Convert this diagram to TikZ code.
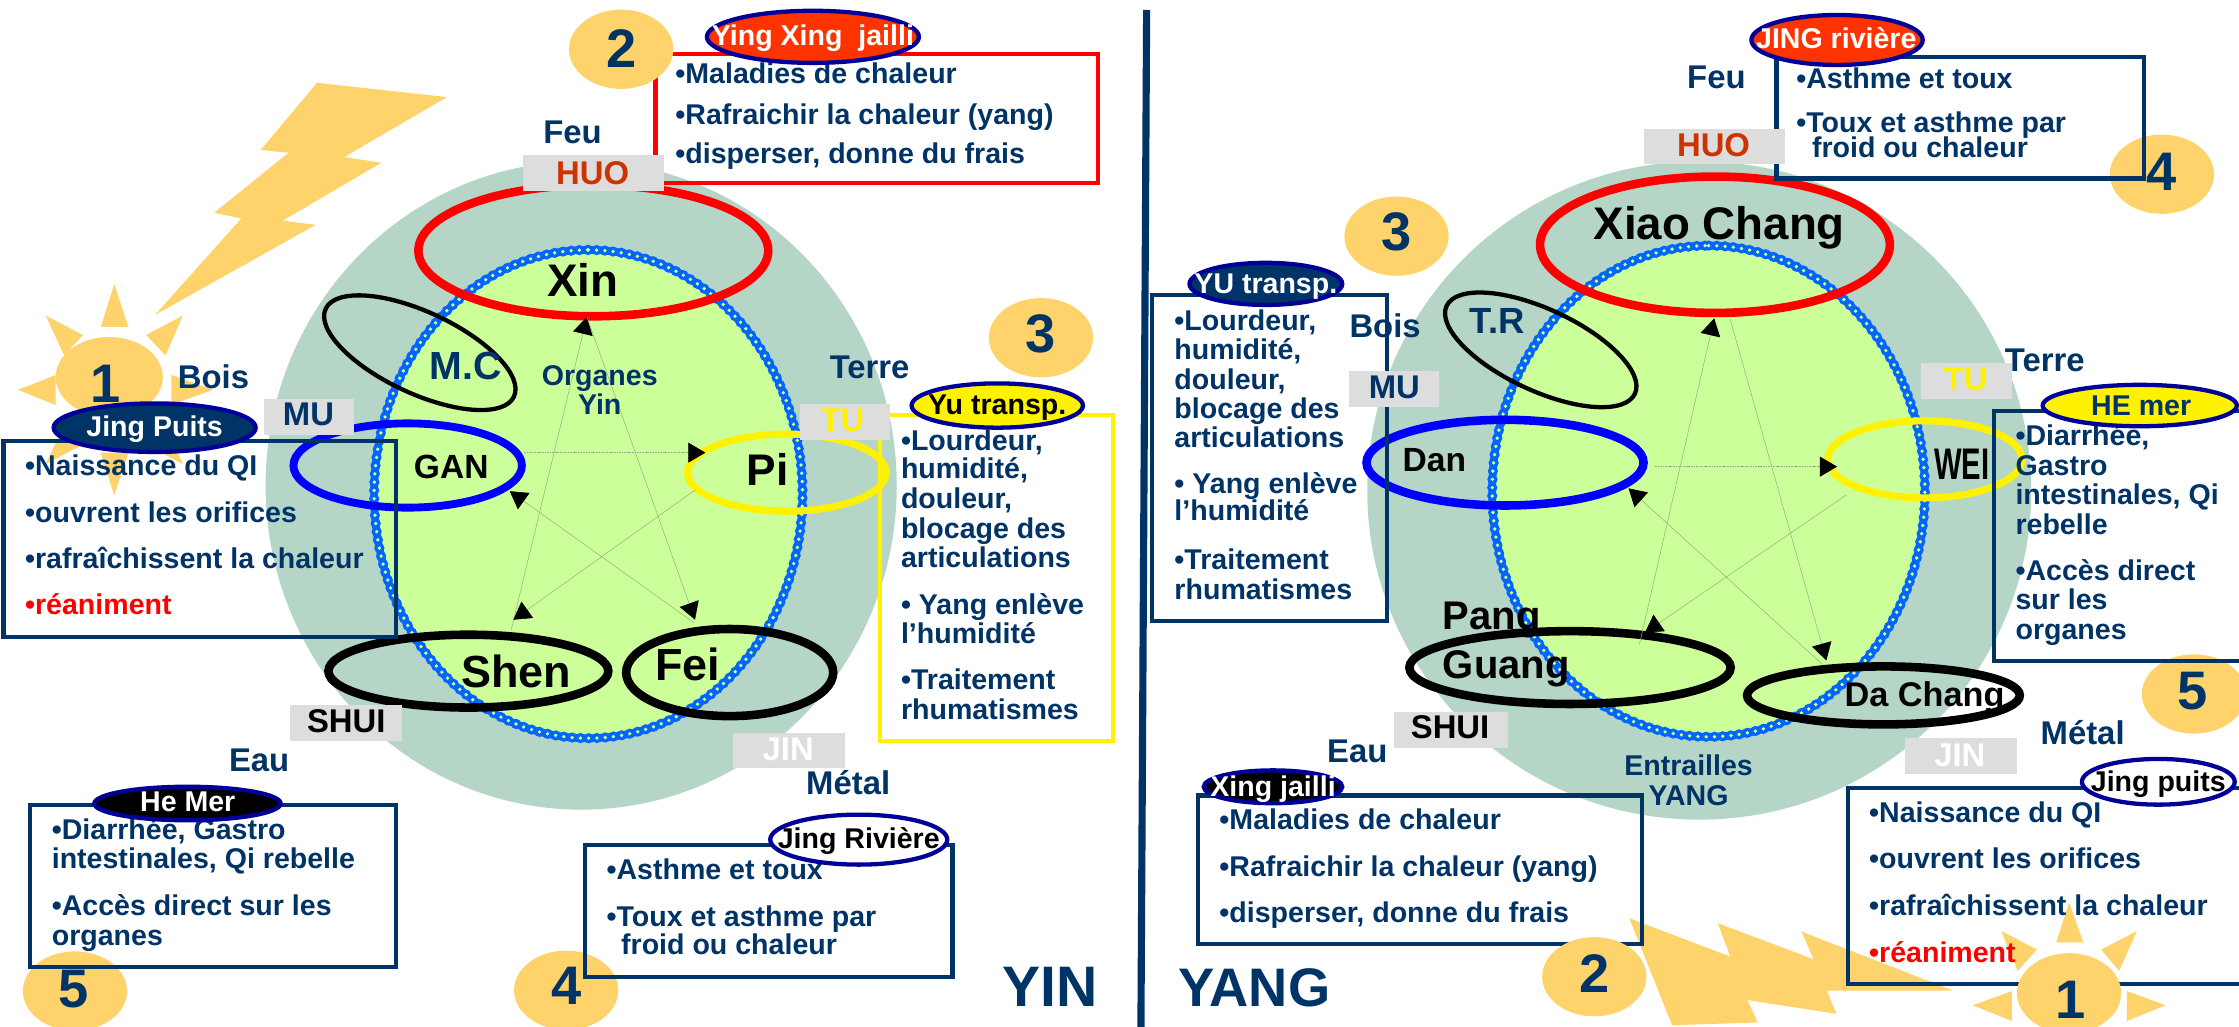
\documentclass[tikz,border=0pt]{standalone}
\usepackage{fontspec}
\setmainfont{Liberation Sans}
\usetikzlibrary{shapes.geometric,arrows.meta}
\definecolor{navy}{HTML}{003366}
\definecolor{disc}{HTML}{FFD36B}
\definecolor{sage}{HTML}{B5D6C6}
\definecolor{lime}{HTML}{CCFF99}
\definecolor{greyb}{HTML}{DDDDDD}
\definecolor{ovalb}{HTML}{000099}
\definecolor{flame}{HTML}{FF3300}
\definecolor{huoc}{HTML}{CC3300}
\definecolor{ringb}{HTML}{0066FF}
\definecolor{ringd}{HTML}{DDFF88}
\definecolor{thinl}{HTML}{8FAF80}
\newcommand\fsz[1]{\fontsize{#1}{#1}\selectfont\bfseries}
\tikzset{
 lbl/.style={font=\fsz{#1},text height={#1*0.716pt},text depth=0pt,inner sep=0pt,outer sep=0pt},
 oval/.style args={#1/#2}{shape=ellipse,inner sep=0pt,outer sep=0pt,minimum width=#1pt,minimum height=#2pt},
 numdisc/.style={oval=73/55.5,fill=disc},
 digit/.style={lbl=38,text=navy},
 body/.style={lbl=20,text=navy,anchor=west},
 elem/.style={lbl=23,text=navy},
 organ/.style={lbl=#1,text=black},
 greytag/.style={shape=rectangle,fill=greyb,inner sep=0pt,outer sep=0pt,minimum width=#1pt,minimum height=25pt},
 tagtxt/.style={lbl=23,text=#1},
 ring/.style={oval=#1,draw=none,fill=lime},
 beads/.style={draw=ringb,line width=5.4pt},
 beaddots/.style={draw=ringb,line width=7.2pt,line cap=round,dash pattern=on 0pt off 5.8pt},
 beadlight/.style={draw=ringd,line width=2.6pt,line cap=round,dash pattern=on 0pt off 5.8pt},
 note/.style={shape=rectangle,draw=#1,line width=3pt,inner sep=0pt,outer sep=0pt,fill=none},
 callout/.style={shape=ellipse,inner sep=0pt,outer sep=0pt,draw=ovalb,line width=3pt,fill=#1},
 calltxt/.style={lbl=20,text=#1},
 star/.style={draw=thinl,line width=0.35pt,-{Triangle[length=12pt,width=14pt,fill=black,color=black]}},
 bolt/.style={fill=disc,draw=none},
}
\begin{document}
\begin{tikzpicture}[x=1pt,y=-1pt]
\useasboundingbox (0,0) rectangle (1568,719.2);
\path[fill=white] (0,0) rectangle (1568,719.2);

%%% ---------- LEFT : YIN ----------
\fill[bolt] (222,58)--(313,68)--(241,110)--(267,114)--(198,154.5)--(221,157.5)--(108.5,220.6)--(169,153)--(150,149)--(202,107)--(182.6,105)--cycle;
% sun rays
\fill[bolt] (80,199)--(90,229)--(70.6,229)--cycle;
\fill[bolt] (32,221)--(58,234.6)--(45,249)--cycle;
\fill[bolt] (128,221)--(102.4,234.6)--(116,249)--cycle;
\fill[bolt] (12.6,273)--(39,262.6)--(39,283.6)--cycle;
\fill[bolt] (149,273)--(120,262.6)--(120,283.6)--cycle;
\fill[bolt] (80,347)--(90,317)--(70.6,317)--cycle;
\fill[bolt] (32,325)--(58,311.4)--(45,297)--cycle;
\fill[bolt] (128,325)--(102.4,311.4)--(116,297)--cycle;
\node[oval=75/56,fill=disc] (sunL) at (76.5,264) {};
\node[numdisc] (d3L) at (729,236.5) {};
\node[numdisc] (d5L) at (52.5,694) {};
\node[numdisc] (d4L) at (396.5,693.5) {};

\node[oval=442/454,fill=sage] (bigL) at (407,340) {};
\node[ring=300/342] (limeL) at (412,346) {};
\draw[beads] (412,175) arc[x radius=150,y radius=171,start angle=-90,end angle=270];
\draw[beaddots] (412,175) arc[x radius=150,y radius=171,start angle=-90,end angle=270];
\draw[beadlight] (412,175) arc[x radius=150,y radius=171,start angle=-90,end angle=270];

\node[oval=245/92,draw=red,line width=6pt] (redL) at (415.5,175.5) {};
\node[oval=145.5/57,draw=black,line width=3pt,rotate=-25] (mcL) at (294,247) {};
\node[oval=160/59,draw=blue,line width=5.5pt] (ganL) at (285.5,326) {};
\node[oval=139/54,draw=yellow,line width=5pt] (piL) at (551,331) {};
\node[oval=196/51,draw=black,line width=6pt] (shenL) at (328,470) {};
\node[oval=145/61,draw=black,line width=6pt] (feiL) at (511,471) {};

% pentagram
\coordinate (tL) at (411,222);
\coordinate (rL) at (494,317);
\coordinate (fL) at (486.7,434);
\coordinate (sL) at (359.5,434);
\coordinate (lL) at (357,344);
\coordinate (sLa) at (358,441);
\coordinate (lLa) at (367,317);
\coordinate (fLa) at (486,436);
\coordinate (rLa) at (487,343);
\coordinate (tLa) at (411,222);
\draw[star] (sLa) -- (tL);
\draw[star,dash pattern=on 1.2pt off 0.6pt] (lLa) -- (rL);
\draw[star] (fLa) -- (lL);
\draw[star] (tLa) -- (fL);
\draw[star] (rLa) -- (sL);

% note boxes
\node[note=navy,minimum width=275pt,minimum height=137pt] (b1L) at (140,377.5) {};
\node[note=red,minimum width=310pt,minimum height=90pt] (b2L) at (614,83) {};
\node[note=yellow,minimum width=163pt,minimum height=228.5pt] (b3L) at (698,404.8) {};
\node[note=navy,minimum width=256.5pt,minimum height=113.5pt] (b5L) at (149.2,620.3) {};
\node[note=navy,minimum width=257.3pt,minimum height=92.4pt] (b4L) at (538.4,637.8) {};
\node[numdisc] (d2L) at (435,34.5) {};

% grey tags
\node[greytag=99] (huoL) at (415.5,121) {};
\node[greytag=63.5] (muL) at (216.3,291.8) {};
\node[greytag=63.5] (tuL) at (591.8,295.5) {};
\node[greytag=78.5] (shuiL) at (242.3,506.5) {};
\node[greytag=78.5] (jinL) at (552.8,525.5) {};
\node[tagtxt=huoc] (huoLt) at (415,121) {HUO};
\node[tagtxt=navy] (muLt) at (216,290) {MU};
\node[tagtxt=yellow] (tuLt) at (590,294) {TU};
\node[tagtxt=black] (shuiLt) at (242.5,505) {SHUI};
\node[tagtxt=white] (jinLt) at (552,524) {JIN};

% elements
\node[elem] (feuL) at (401,92) {Feu};
\node[elem] (boisL) at (149.5,264) {Bois};
\node[elem] (terreL) at (609,257) {Terre};
\node[elem] (eauL) at (181.5,532) {Eau};
\node[elem] (metalL) at (594,548) {Métal};
\node[lbl=20,text=navy] (orgL) at (420,262.6) {Organes};
\node[lbl=20,text=navy] (yinyL) at (420,283) {Yin};

% organs
\node[organ=32] (xin) at (408,196) {Xin};
\node[lbl=27.5,text=navy] (mc) at (326,255.6) {M.C};
\node[organ=23.5] (gan) at (316,327) {GAN};
\node[organ=31] (pi) at (537.5,329) {Pi};
\node[organ=31.5] (shen) at (361.5,470) {Shen};
\node[organ=31.5] (fei) at (481.5,465.5) {Fei};

% digits
\node[digit] (n1L) at (74,268) {1};
\node[digit] (n2L) at (435,33.5) {2};
\node[digit] (n3L) at (729,233) {3};
\node[digit] (n5L) at (51.5,692) {5};
\node[digit] (n4L) at (397,690) {4};
\node[lbl=40,text=navy] (yin) at (735.5,690.5) {YIN};

% note text
\node[body] (a1) at (473,51) {•Maladies de chaleur};
\node[body] (a2) at (473,80) {•Rafraichir la chaleur (yang)};
\node[body] (a3) at (473,107) {•disperser, donne du frais};
\node[body] (c1) at (17.6,325.6) {•Naissance du QI};
\node[body] (c2) at (17.6,359) {•ouvrent les orifices};
\node[body] (c3) at (17.6,391) {•rafraîchissent la chaleur};
\node[body,text=red] (c4) at (17.6,423.5) {•réaniment};
\node[body] (e1) at (631,308) {•Lourdeur,};
\node[body] (e2) at (631,328) {humidité,};
\node[body] (e3) at (631,349) {douleur,};
\node[body] (e4) at (631,370) {blocage des};
\node[body] (e5) at (631,390.4) {articulations};
\node[body] (e6) at (631,423) {• Yang enlève};
\node[body] (e7) at (631,443.4) {l’humidité};
\node[body] (e8) at (631,476) {•Traitement};
\node[body] (e9) at (631,496.6) {rhumatismes};
\node[body] (g1) at (36.3,580.6) {•Diarrhée, Gastro};
\node[body] (g2) at (36.3,601) {intestinales, Qi rebelle};
\node[body] (g3) at (36.3,634) {•Accès direct sur les};
\node[body] (g4) at (36.3,655) {organes};
\node[body] (i1) at (424.8,609) {•Asthme et toux};
\node[body] (i2) at (424.8,642) {•Toux et asthme par};
\node[body] (i3) at (435,661.6) {froid ou chaleur};

% callouts
\node[callout=flame,minimum width=148.5pt,minimum height=36.5pt] (k1) at (569.3,25.8) {};
\node[calltxt=white] (k1t) at (569.3,25) {Ying Xing\ \ jailli};
\node[callout=navy,minimum width=141.5pt,minimum height=34pt] (k2) at (108.3,299.5) {};
\node[calltxt=white] (k2t) at (108.3,298.7) {Jing Puits};
\node[callout=yellow,minimum width=120pt,minimum height=31pt] (k3) at (698.4,284) {};
\node[calltxt=black] (k3t) at (698.4,283) {Yu transp.};
\node[callout=black,minimum width=130.5pt,minimum height=23.5pt] (k4) at (131.3,562.7) {};
\node[calltxt=white] (k4t) at (131.5,561) {He Mer};
\node[callout=white,minimum width=124pt,minimum height=35pt] (k5) at (601.4,588) {};
\node[calltxt=black] (k5t) at (601.4,587) {Jing Rivière};

%%% ---------- DIVIDER ----------
\coordinate (divT) at (803,7);
\coordinate (divB) at (799,719.2);
\draw[navy,line width=5pt] (divT) -- (divB);

%%% ---------- RIGHT : YANG ----------
\fill[bolt] (1141,643)--(1211.8,670)--(1203,646.5)--(1270,671.8)--(1261.7,652.4)--(1368,693.8)--(1279.4,693.8)--(1286,710)--(1223.7,700.3)--(1231,716)--(1171,718)--cycle;
\node[numdisc] (d3R) at (978,165.4) {};
\node[numdisc] (d4R) at (1514,122) {};
\node[numdisc] (d5R) at (1536.5,486) {};

\node[oval=465/461,fill=sage] (bigR) at (1190,343.5) {};
\node[ring=303/344] (limeR) at (1196.5,344) {};
\draw[beads] (1196.5,172) arc[x radius=151.5,y radius=172,start angle=-90,end angle=270];
\draw[beaddots] (1196.5,172) arc[x radius=151.5,y radius=172,start angle=-90,end angle=270];
\draw[beadlight] (1196.5,172) arc[x radius=151.5,y radius=172,start angle=-90,end angle=270];

\node[oval=245/95.5,draw=red,line width=6pt] (redR) at (1201,171.4) {};
\node[oval=145.5/57,draw=black,line width=3pt,rotate=-25] (trR) at (1079,245) {};
\node[oval=194/60,draw=blue,line width=6pt] (danR) at (1054,324) {};
\node[oval=136/54,draw=yellow,line width=5pt] (weiR) at (1348,321.7) {};
\node[oval=225/51,draw=black,line width=6pt] (pangR) at (1099.5,467.5) {};
\node[oval=191/40.6,draw=black,line width=6pt] (daR) at (1319,487) {};

\coordinate (tR) at (1200.5,223);
\coordinate (rR) at (1286.5,326.8);
\coordinate (fR) at (1279,462.5);
\coordinate (sR) at (1152,443);
\coordinate (lR) at (1140.5,342);
\coordinate (sRa) at (1148,451.5);
\coordinate (lRa) at (1159,326.8);
\coordinate (fRa) at (1276.5,465.5);
\coordinate (rRa) at (1293,346.6);
\coordinate (tRa) at (1211.5,223);
\draw[star] (sRa) -- (tR);
\draw[star,dash pattern=on 1.2pt off 0.6pt] (lRa) -- (rR);
\draw[star] (fRa) -- (lR);
\draw[star] (tRa) -- (fR);
\draw[star] (rRa) -- (sR);

\node[note=navy,minimum width=257.5pt,minimum height=85pt] (b4R) at (1372.8,82.5) {};
\node[note=navy,minimum width=165pt,minimum height=228.4pt] (b3R) at (889,320.8) {};
\node[note=navy,minimum width=180pt,minimum height=175pt] (b5R) at (1486.5,375.5) {};
\node[note=navy,minimum width=311pt,minimum height=104pt] (b2R) at (994.5,609) {};
\node[note=navy,minimum width=280pt,minimum height=137pt] (b1R) at (1434,620.5) {};

% yang sun, over its note
\fill[bolt] (1449,632)--(1459,660)--(1440,660)--cycle;
\fill[bolt] (1401.5,652)--(1426.5,665)--(1413,680)--cycle;
\fill[bolt] (1496.5,652)--(1471.5,665)--(1484,680)--cycle;
\fill[bolt] (1381.5,704)--(1409,694)--(1409,715)--cycle;
\fill[bolt] (1516.5,704)--(1489.5,694)--(1489.5,715)--cycle;
\node[oval=73/56,fill=disc] (sunR) at (1449,695.5) {};
\node[numdisc] (d2R) at (1116.5,684) {};

\node[greytag=98.5] (huoR) at (1200.8,102.7) {};
\node[greytag=63] (muR) at (976.5,272.4) {};
\node[greytag=64] (tuR) at (1377,267) {};
\node[greytag=79.5] (shuiR) at (1016.3,511) {};
\node[greytag=78.5] (jinR) at (1373.3,529.5) {};
\node[tagtxt=huoc] (huoRt) at (1200,101.5) {HUO};
\node[tagtxt=navy] (muRt) at (976.5,270.7) {MU};
\node[tagtxt=yellow] (tuRt) at (1376.5,265) {TU};
\node[tagtxt=black] (shuiRt) at (1015.5,508.7) {SHUI};
\node[tagtxt=white] (jinRt) at (1372.5,528.5) {JIN};

\node[elem] (feuR) at (1202,54) {Feu};
\node[elem] (boisR) at (970,228.3) {Bois};
\node[elem] (terreR) at (1432,252) {Terre};
\node[elem] (eauR) at (950.5,525.5) {Eau};
\node[elem] (metalR) at (1458.5,513) {Métal};
\node[lbl=20,text=navy] (entR) at (1182.5,536) {Entrailles};
\node[lbl=20,text=navy] (yangyR) at (1182.5,556.6) {YANG};

\node[organ=32] (xiao) at (1204,156) {Xiao Chang};
\node[lbl=25.5,text=navy] (tr) at (1048.5,224.5) {T.R};
\node[organ=23.5] (dan) at (1004.5,321.6) {Dan};
\node[organ=31,xscale=0.66] (wei) at (1374,325) {WEI};
\node[lbl=28,text=black,anchor=west] (pang) at (1010.5,430.5) {Pang};
\node[lbl=28,text=black,anchor=west] (guang) at (1010.5,465) {Guang};
\node[organ=24] (dac) at (1347.8,486) {Da Chang};

\node[digit] (n3R) at (978,162) {3};
\node[digit] (n4R) at (1514,119.5) {4};
\node[digit] (n5R) at (1535.5,483.5) {5};
\node[digit] (n2R) at (1116.5,681.4) {2};
\node[digit] (n1R) at (1450,700) {1};
\node[lbl=38,text=navy] (yang) at (878.5,691) {YANG};

\node[body] (m1) at (1258,55) {•Asthme et toux};
\node[body] (m2) at (1258,85.7) {•Toux et asthme par};
\node[body] (m3) at (1269,103.4) {froid ou chaleur};
\node[body] (o1) at (822.5,224.5) {•Lourdeur,};
\node[body] (o2) at (822.5,244.4) {humidité,};
\node[body] (o3) at (822.5,265.6) {douleur,};
\node[body] (o4) at (822.5,286) {blocage des};
\node[body] (o5) at (822.5,306.5) {articulations};
\node[body] (o6) at (822.5,338.4) {• Yang enlève};
\node[body] (o7) at (822.5,357.5) {l’humidité};
\node[body] (o8) at (822.5,391.5) {•Traitement};
\node[body] (o9) at (822.5,412.5) {rhumatismes};
\node[body] (q1) at (1411.5,304.6) {•Diarrhée,};
\node[body] (q2) at (1411.5,325.6) {Gastro};
\node[body] (q3) at (1411.5,346) {intestinales, Qi};
\node[body] (q4) at (1411.5,367) {rebelle};
\node[body] (q5) at (1411.5,399.5) {•Accès direct};
\node[body] (q6) at (1411.5,420) {sur les};
\node[body] (q7) at (1411.5,441) {organes};
\node[body] (s1) at (854,574) {•Maladies de chaleur};
\node[body] (s2) at (854,606.7) {•Rafraichir la chaleur (yang)};
\node[body] (s3) at (854,639) {•disperser, donne du frais};
\node[body] (u1) at (1309,569) {•Naissance du QI};
\node[body] (u2) at (1309,601.4) {•ouvrent les orifices};
\node[body] (u3) at (1309,634) {•rafraîchissent la chaleur};
\node[body,text=red] (u4) at (1309,667) {•réaniment};

\node[callout=flame,minimum width=120pt,minimum height=35pt] (w1) at (1286.5,28) {};
\node[calltxt=white] (w1t) at (1286,27) {JING rivière};
\node[callout=navy,minimum width=107pt,minimum height=29.5pt] (w2) at (886.5,198.8) {};
\node[calltxt=white] (w2t) at (886.5,198.4) {YU transp.};
\node[callout=yellow,minimum width=136pt,minimum height=29pt] (w3) at (1498.5,284) {};
\node[calltxt=navy] (w3t) at (1499.5,283.6) {HE mer};
\node[callout=black,minimum width=97pt,minimum height=23pt] (w4) at (891.5,551) {};
\node[calltxt=white] (w4t) at (891.5,550.7) {Xing jailli};
\node[callout=white,minimum width=107pt,minimum height=32pt] (w5) at (1511.5,547.5) {};
\node[calltxt=black] (w5t) at (1511.5,547) {Jing puits};
\end{tikzpicture}
\end{document}
